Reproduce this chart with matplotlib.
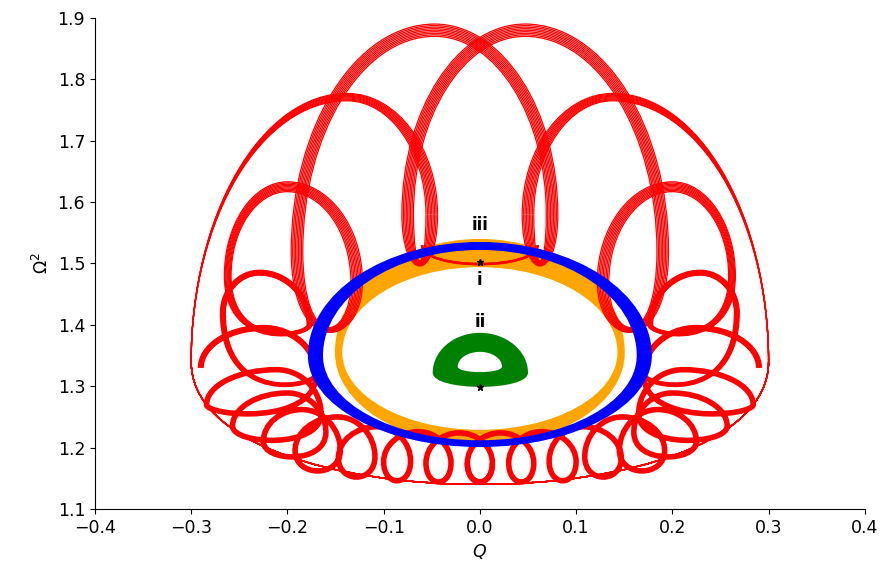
import matplotlib
matplotlib.use("Agg")
import matplotlib.pyplot as plt
from matplotlib.path import Path
from matplotlib.patches import PathPatch

# ---------------- data ----------------
# Red trajectory, right half (mirrored for the left half), as chains of
# D-shaped turns.  Per turn: rising leg (Q, Omega^2), crest, falling leg;
# then the trough levels of the link to the next turn.
# Band widths (the trajectory passes many times) are read per turn.
# crown chain: T1 (top arch) -> T3 -> S1 -> S2
top_left_q  = [-0.075, 0.128, 0.177, 0.170]
top_left_w  = [1.580, 1.470, 1.400, 1.320]
top_peak_q  = [0.047, 0.200, 0.229, 0.225]
top_peak_w  = [1.880, 1.625, 1.485, 1.395]
top_right_q = [0.190, 0.262, 0.267, 0.290]
top_right_w = [1.520, 1.480, 1.420, 1.330]
top_low_r   = [1.392, 1.387, 1.305]
top_low_l   = [1.392, 1.387, 1.305]
top_start   = (-0.050, 1.580, 1.500)   # narrow turn shared with mirrored arch
top_band_left  = [0.012, 0.012, 0.005, 0.005]
top_band_peak  = [0.020, 0.016, 0.008, 0.008]
top_band_right = [0.012, 0.007, 0.005, 0.005]
top_band_low   = [0.008, 0.006, 0.006]
top_band_start = (0.012, 0.008)

# outer arch T2 with its thin outer leg closing round the bottom
out_left_q  = [0.050]
out_left_w  = [1.580]
out_peak_q  = [0.138]
out_peak_w  = [1.771]
out_right_q = [0.300]
out_right_w = [1.340]
out_end     = (-0.300, 1.340, 1.140, 1.140)
out_band_left  = [0.012]
out_band_peak  = [0.012]
out_band_right = [0.0]

# bottom chain: teardrops B1..B4, side turns S5..S3 (solid line)
bot_left_q  = [-0.013, 0.030, 0.072, 0.109, 0.145, 0.160, 0.165]
bot_left_w  = [1.175, 1.175, 1.178, 1.185, 1.195, 1.225, 1.255]
bot_peak_q  = [0.0215, 0.064, 0.107, 0.148, 0.185, 0.200, 0.211]
bot_peak_w  = [1.224, 1.226, 1.234, 1.250, 1.262, 1.289, 1.327]
bot_right_q = [0.056, 0.100, 0.147, 0.192, 0.225, 0.257, 0.284]
bot_right_w = [1.175, 1.177, 1.183, 1.195, 1.210, 1.235, 1.270]
bot_low_r   = [1.144, 1.146, 1.152, 1.162, 1.185, 1.212]
bot_low_l   = [1.144, 1.146, 1.152, 1.162, 1.185, 1.212]
bot_start   = (0.013, 1.175, 1.144)
bot_end     = (0.170, 1.320, 1.256, 1.256)

# thin line between the two narrow turns
mid_line = (0.060, 1.530, 1.499, -0.060, 1.530, 1.499)

# closed orbits (egg shapes: centre, half-width, extent above / below)
blue_outer = dict(q=0.0, w=1.350, hw=0.1787, up=0.185, dn=0.149)
blue_inner = dict(q=0.0, w=1.350, hw=0.163, up=0.172, dn=0.138)
orange_outer = dict(q=0.0, w=1.355, hw=0.1506, up=0.185, dn=0.150)
orange_inner = dict(q=0.0, w=1.355, hw=0.143, up=0.139, dn=0.126)
green_outer = dict(lq=-0.049, lw=1.322, pq=0.0, pw=1.387, rq=0.050, rw=1.322, low=1.299)
green_inner = dict(lq=-0.023, lw=1.332, pq=0.0, pw=1.356, rq=0.023, rw=1.332, low=1.323)

marker_q = [0.0, 0.0]
marker_w = [1.503, 1.298]
label_text = ["iii", "i", "ii"]
label_q = [0.0, 0.0, 0.0]
label_w = [1.563, 1.473, 1.405]

# ---------------- styles ----------------
RED = "#ff0000"
N_STRANDS = 9
STRAND_LW = 0.9
BOT_LW = 4.0
MID_LW = 1.8

K = 0.55
H = 4.0 / 3.0


def link(q0, w0, low0, q1, w1, low1):
    return [(q0, w0 - H * (w0 - low0)), (q1, w1 - H * (w1 - low1)), (q1, w1)]


def chain_verts(lq, lw_, pq, pw, rq, rw, low_r, low_l, start=None, end=None):
    v = []
    if start is not None:
        sq, sw, slow = start
        v += [(sq, sw)] + link(sq, sw, slow, lq[0], lw_[0], slow)
    else:
        v.append((lq[0], lw_[0]))
    n = len(lq)
    for i in range(n):
        v += [(lq[i], lw_[i] + K * (pw[i] - lw_[i])),
              (pq[i] - K * (pq[i] - lq[i]), pw[i]), (pq[i], pw[i])]
        v += [(pq[i] + K * (rq[i] - pq[i]), pw[i]),
              (rq[i], rw[i] + K * (pw[i] - rw[i])), (rq[i], rw[i])]
        if i < n - 1:
            v += link(rq[i], rw[i], low_r[i], lq[i + 1], lw_[i + 1], low_l[i])
    if end is not None:
        eq, ew, lowr, lowl = end
        v += link(rq[-1], rw[-1], lowr, eq, ew, lowl)
    return v


def add_curve(ax, verts, sign, lw, zorder=2):
    verts = [(sign * x, y) for x, y in verts]
    codes = [Path.MOVETO] + [Path.CURVE4] * (len(verts) - 1)
    ax.add_patch(PathPatch(Path(verts, codes), fill=False, ec=RED, lw=lw,
                           capstyle="butt", joinstyle="round", zorder=zorder))


def strands(lq, lw_, pq, pw, rq, rw, low_r, low_l, bl, bp, br, blow,
            start=None, bstart=None, end=None):
    out = []
    for j in range(N_STRANDS):
        f = j / (N_STRANDS - 1) - 0.5
        lq_j = [q - f * s for q, s in zip(lq, bl)]
        rq_j = [q + f * s for q, s in zip(rq, br)]
        pw_j = [w + f * s for w, s in zip(pw, bp)]
        lr_j = [w - f * s for w, s in zip(low_r, blow)]
        ll_j = [w - f * s for w, s in zip(low_l, blow)]
        st = None
        if start is not None:
            st = (start[0] + f * bstart[0], start[1], start[2] - f * bstart[1])
        out.append(chain_verts(lq_j, lw_, pq, pw_j, rq_j, rw, lr_j, ll_j, st, end))
    return out


def egg_path(q, w, hw, up, dn, reverse=False):
    k = 0.5523
    v = [(q + hw, w), (q + hw, w + k * up), (q + k * hw, w + up), (q, w + up),
         (q - k * hw, w + up), (q - hw, w + k * up), (q - hw, w),
         (q - hw, w - k * dn), (q - k * hw, w - dn), (q, w - dn),
         (q + k * hw, w - dn), (q + hw, w - k * dn), (q + hw, w)]
    if reverse:
        v = v[::-1]
    return v + [v[0]], [Path.MOVETO] + [Path.CURVE4] * 12 + [Path.CLOSEPOLY]


def d_path(d, reverse=False):
    lq, lw_, pq, pw, rq, rw, low = (d["lq"], d["lw"], d["pq"], d["pw"],
                                     d["rq"], d["rw"], d["low"])
    v = [(lq, lw_), (lq, lw_ + K * (pw - lw_)), (pq - K * (pq - lq), pw), (pq, pw),
         (pq + K * (rq - pq), pw), (rq, rw + K * (pw - rw)), (rq, rw),
         (rq, rw - H * (rw - low)), (lq, lw_ - H * (lw_ - low)), (lq, lw_)]
    if reverse:
        v = v[::-1]
    return v + [v[0]], [Path.MOVETO] + [Path.CURVE4] * 9 + [Path.CLOSEPOLY]


fig = plt.figure(figsize=(8.87, 5.73), dpi=100)
ax = fig.add_axes([0.107, 0.1117, 0.868, 0.857])

top_strands = strands(top_left_q, top_left_w, top_peak_q, top_peak_w,
                      top_right_q, top_right_w, top_low_r, top_low_l,
                      top_band_left, top_band_peak, top_band_right, top_band_low,
                      start=top_start, bstart=top_band_start)
out_strands = strands(out_left_q, out_left_w, out_peak_q, out_peak_w,
                      out_right_q, out_right_w, [], [], out_band_left,
                      out_band_peak, out_band_right, [], end=out_end)
bottom = chain_verts(bot_left_q, bot_left_w, bot_peak_q, bot_peak_w,
                     bot_right_q, bot_right_w, bot_low_r, bot_low_l,
                     bot_start, bot_end)
q0, w0, l0, q1, w1, l1 = mid_line
mid = [(q0, w0)] + link(q0, w0, l0, q1, w1, l1)

for sign in (1.0, -1.0):
    for v in top_strands + out_strands:
        add_curve(ax, v, sign, STRAND_LW)
    add_curve(ax, bottom, sign, BOT_LW)
    add_curve(ax, mid, sign, MID_LW)

# orange below the red trajectory, blue and green above it
vo, co = egg_path(**orange_outer)
vi, ci_ = egg_path(**orange_inner, reverse=True)
ax.add_patch(PathPatch(Path(vo + vi, co + ci_), fc="#ffa500", ec="none", zorder=1))
vo, co = egg_path(**blue_outer)
vi, ci_ = egg_path(**blue_inner, reverse=True)
ax.add_patch(PathPatch(Path(vo + vi, co + ci_), fc="#0000ff", ec="none", zorder=4))
vo, co = d_path(green_outer)
vi, ci_ = d_path(green_inner, reverse=True)
ax.add_patch(PathPatch(Path(vo + vi, co + ci_), fc="#008000", ec="none", zorder=5))

ax.plot(marker_q, marker_w, ls="none", marker="*", ms=5, color="black", zorder=6)
for t, q, w in zip(label_text, label_q, label_w):
    ax.text(q, w, t, ha="center", va="center", fontsize=12, fontweight="bold",
            zorder=7)

ax.set_xlim(-0.4, 0.4)
ax.set_ylim(1.1, 1.9)
ax.set_xticks([-0.4, -0.3, -0.2, -0.1, 0.0, 0.1, 0.2, 0.3, 0.4])
ax.set_yticks([1.1, 1.2, 1.3, 1.4, 1.5, 1.6, 1.7, 1.8, 1.9])
ax.tick_params(labelsize=12.5)
ax.spines["top"].set_visible(False)
ax.spines["right"].set_visible(False)
ax.set_xlabel("$Q$", fontsize=12.5)
ax.set_ylabel(r"$\Omega^2$", fontsize=12.5)

fig.savefig("out.png", dpi=100)
